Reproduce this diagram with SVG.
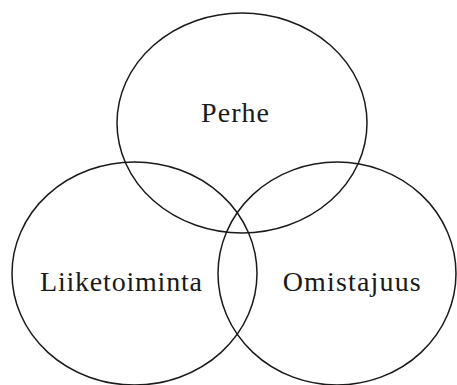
<svg xmlns="http://www.w3.org/2000/svg" width="457" height="385" viewBox="0 0 457 385">
  <style>
    .set { fill: none; stroke: #1a1a1a; stroke-width: 1.5; }
    .label { font-family: "Liberation Serif", "Times New Roman", serif; font-size: 28px; fill: #1a1a1a; text-anchor: middle; }
  </style>
  <rect width="457" height="385" fill="#ffffff"/>
  <g id="perhe">
    <ellipse class="set" cx="242" cy="123" rx="125" ry="110"/>
    <text class="label" x="235" y="122" textLength="68" lengthAdjust="spacing">Perhe</text>
  </g>
  <g id="liiketoiminta">
    <ellipse class="set" cx="134.5" cy="273.5" rx="122.5" ry="111.5"/>
    <text class="label" x="121" y="291" textLength="162" lengthAdjust="spacing">Liiketoiminta</text>
  </g>
  <g id="omistajuus">
    <ellipse class="set" cx="337" cy="273.5" rx="119" ry="111.5"/>
    <text class="label" x="351.7" y="291" textLength="138" lengthAdjust="spacing">Omistajuus</text>
  </g>
  <g id="connectors"/>
</svg>
